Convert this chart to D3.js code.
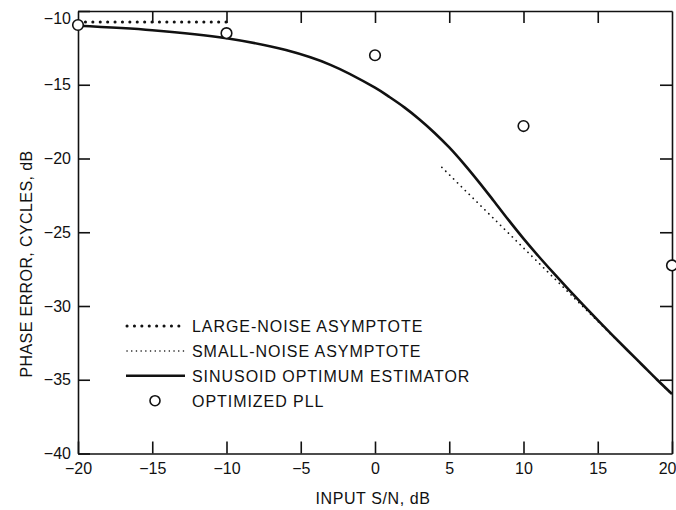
<!DOCTYPE html>
<html>
<head>
<meta charset="utf-8">
<script src="https://cdn.jsdelivr.net/npm/d3@7"></script>
<style>
  body { margin: 0; background: #fff; }
  svg text { font-family: "Liberation Sans", Arial, sans-serif; fill: #111; }
  .axis path, .axis line { stroke: #111; stroke-width: 1.6; }
  .axis text { font-size: 16px; }
</style>
</head>
<body>
<div id="chart"></div>
<script>
// values
var xTicks = [-20, -15, -10, -5, 0, 5, 10, 15, 20];
var yTicks = [-10, -15, -20, -25, -30, -35, -40];

var optimumX = [-20, -15, -10, -6, -3, 0, 1, 2, 3, 4, 5, 6, 7, 8, 9, 10, 11, 12, 13, 14, 15, 16, 17, 18, 19, 20];
var optimumY = [-11.0, -11.3, -11.85, -12.65, -13.65, -15.2, -15.85, -16.55, -17.35, -18.25, -19.25, -20.38, -21.6, -22.88, -24.18, -25.43, -26.61, -27.74, -28.84, -29.91, -30.96, -31.99, -33.0, -34.0, -35.0, -35.97];

var largeNoiseX = [-20, -10];
var largeNoiseY = [-10.75, -10.75];

var smallNoiseX = [4.5, 20];
var smallNoiseY = [-20.6, -36.0];

var pllX = [-20, -10, 0, 10, 20];
var pllY = [-10.95, -11.5, -13.0, -17.8, -27.25];

var legendLabels = ["LARGE-NOISE ASYMPTOTE", "SMALL-NOISE ASYMPTOTE", "SINUSOID OPTIMUM ESTIMATOR", "OPTIMIZED PLL"];

var W = 676, H = 510;
var margin = {top: 11, right: 4, bottom: 57, left: 78};
var width = W - margin.left - margin.right;
var height = H - margin.top - margin.bottom;

var svg = d3.select("#chart").append("svg")
    .attr("width", W)
    .attr("height", H);

var g = svg.append("g")
    .attr("transform", "translate(" + margin.left + "," + margin.top + ")");

var x = d3.scaleLinear().domain([-20, 20]).range([0, width]);
var y = d3.scaleLinear().domain([-40, -10]).range([height + 0.5, 0]);

var fmt = function(d) { return d < 0 ? "\u2212" + Math.abs(d) : d; };

// axes, ticks pointing inward
var xAxis = g.append("g")
    .attr("class", "axis")
    .attr("transform", "translate(0," + y(-40) + ")")
    .call(d3.axisBottom(x).tickValues(xTicks).tickSize(-12).tickSizeOuter(0).tickPadding(9).tickFormat(fmt));

// last label is pushed against the right edge like the original
xAxis.selectAll(".tick text").filter(function(d) { return d === 20; })
    .attr("text-anchor", "end")
    .attr("x", 4);

var yAxis = g.append("g")
    .attr("class", "axis")
    .call(d3.axisLeft(y).tickValues(yTicks).tickSize(-12).tickSizeOuter(0).tickPadding(7).tickFormat(fmt));

// the top label sits a bit lower in the original
yAxis.selectAll(".tick text").filter(function(d) { return d === -10; }).attr("dy", "0.75em");

g.append("g")
    .attr("class", "axis")
    .call(d3.axisTop(x).tickValues(xTicks.slice(1, -1)).tickSize(-12).tickSizeOuter(0).tickFormat(""));

g.append("g")
    .attr("class", "axis")
    .attr("transform", "translate(" + width + ",0)")
    .call(d3.axisRight(y).tickValues(yTicks.slice(1, -1)).tickSize(-12).tickSizeOuter(0).tickFormat(""));

// axis titles
svg.append("text")
    .attr("x", 373)
    .attr("y", 504)
    .attr("text-anchor", "middle")
    .style("font-size", "16px")
    .style("letter-spacing", "0.6px")
    .text("INPUT S/N, dB");

svg.append("text")
    .attr("transform", "translate(32,264) rotate(-90)")
    .attr("text-anchor", "middle")
    .style("font-size", "16px")
    .style("letter-spacing", "0.4px")
    .text("PHASE ERROR, CYCLES, dB");

var line = d3.line()
    .x(function(d) { return x(d[0]); })
    .y(function(d) { return y(d[1]); });

// large-noise asymptote
g.append("path")
    .datum(d3.zip(largeNoiseX, largeNoiseY))
    .attr("d", line)
    .attr("fill", "none")
    .attr("stroke", "#111")
    .attr("stroke-width", 3)
    .attr("stroke-linecap", "round")
    .attr("stroke-dasharray", "0.1,7.3");

// small-noise asymptote
g.append("path")
    .datum(d3.zip(smallNoiseX, smallNoiseY))
    .attr("d", line)
    .attr("fill", "none")
    .attr("stroke", "#111")
    .attr("stroke-width", 1.7)
    .attr("stroke-linecap", "round")
    .attr("stroke-dasharray", "0.1,5.4");

// sinusoid optimum estimator
g.append("path")
    .datum(d3.zip(optimumX, optimumY))
    .attr("d", line.curve(d3.curveCatmullRom.alpha(0.5)))
    .attr("fill", "none")
    .attr("stroke", "#111")
    .attr("stroke-width", 2.6);

// optimized PLL
g.selectAll(".pll")
    .data(d3.zip(pllX, pllY))
    .enter()
    .append("circle")
    .attr("class", "pll")
    .attr("cx", function(d) { return x(d[0]); })
    .attr("cy", function(d) { return y(d[1]); })
    .attr("r", 5.3)
    .attr("fill", "#fff")
    .attr("stroke", "#111")
    .attr("stroke-width", 1.6);

// legend
var legend = svg.append("g").attr("transform", "translate(126,326)");
var rowH = 24.9;

legend.append("line")
    .attr("x1", 1).attr("x2", 59).attr("y1", 0).attr("y2", 0)
    .attr("stroke", "#111").attr("stroke-width", 3)
    .attr("stroke-linecap", "round").attr("stroke-dasharray", "0.1,7.3");

legend.append("line")
    .attr("x1", 1).attr("x2", 59).attr("y1", rowH).attr("y2", rowH)
    .attr("stroke", "#111").attr("stroke-width", 1.5)
    .attr("stroke-linecap", "round").attr("stroke-dasharray", "0.1,4.6");

legend.append("line")
    .attr("x1", 0).attr("x2", 59).attr("y1", rowH * 2).attr("y2", rowH * 2)
    .attr("stroke", "#111").attr("stroke-width", 2.6);

legend.append("circle")
    .attr("cx", 29).attr("cy", rowH * 3).attr("r", 5)
    .attr("fill", "#fff").attr("stroke", "#111").attr("stroke-width", 1.6);

legend.selectAll(".lbl")
    .data(legendLabels)
    .enter()
    .append("text")
    .attr("class", "lbl")
    .attr("x", 66)
    .attr("y", function(d, i) { return i * rowH + 5.8; })
    .style("font-size", "16px")
    .style("letter-spacing", "0.95px")
    .text(function(d) { return d; });
</script>
</body>
</html>
